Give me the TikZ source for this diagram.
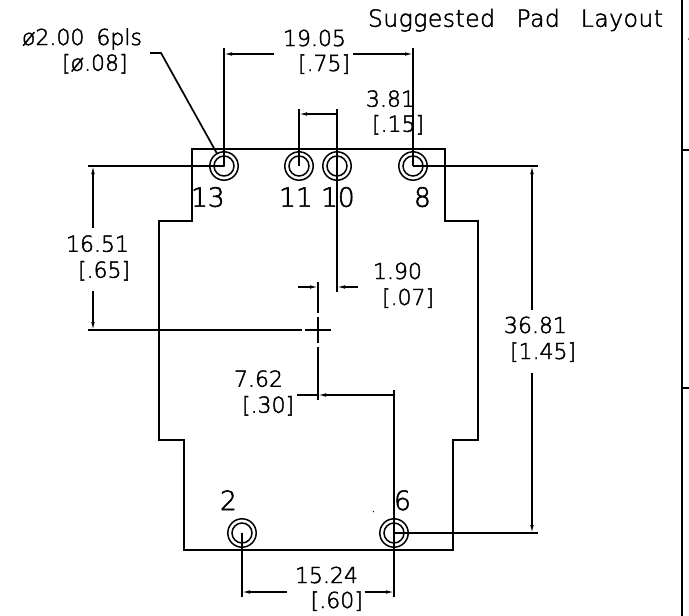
\documentclass[tikz,border=0pt]{standalone}
\usepackage{fontspec}
\newfontfamily\cad[FakeBold=2]{DejaVu Sans ExtraLight}
\usetikzlibrary{arrows.meta}
\tikzset{
  thin line/.style={line width=1.7pt,black},
  edge line/.style={line width=2pt,black,line join=miter},
  dim/.style={line width=1.2pt,black,-{Latex[length=8pt,width=3.6pt]}},
  txt/.style={anchor=base west,inner sep=0pt,outer sep=0pt,font=\cad\fontsize{22}{24}\selectfont},
  bigtxt/.style={txt,font=\cad\fontsize{26.5}{28}\selectfont},
  titletxt/.style={txt,font=\cad\fontsize{23.5}{26}\selectfont\addfontfeature{LetterSpace=2}},
  padring/.style={line width=1.5pt,draw=black,circle,minimum size=#1,inner sep=0pt}
}
\newcommand{\pad}[2]{%
  \coordinate (c#1) at (#2);
  \node[padring=28.4pt] (o#1) at (c#1) {};
  \node[padring=20pt] (i#1) at (c#1) {};
}
\begin{document}
\begin{tikzpicture}[x=1pt,y=-1pt]
\useasboundingbox (0,0) rectangle (689,616);
\fill[white] (0,0) rectangle (689,616);
% outline
\draw[edge line] (192,149) -- (192,221) -- (159,221) -- (159,440) -- (184,440) -- (184,550)
  -- (453,550) -- (453,440) -- (478,440) -- (478,221) -- (445,221) -- (445,149) -- cycle;
% pads
\pad{13}{224,166}
\pad{11}{299,166}
\pad{10}{337,166}
\pad{8}{413,166}
\pad{2}{242,533}
\pad{6}{394,533}
\fill (c13) circle (1pt);
% border at right
\draw[edge line] (682,0) -- (682,616);
\draw[edge line] (682,150) -- (689,150);
\draw[edge line] (682,388) -- (689,388);
\fill (688.5,39) circle (.6pt);
\fill (373.3,511.7) circle (.7pt);
% extension lines
\coordinate (t13) at (224,48);
\coordinate (t8) at (413,48);
\coordinate (t11) at (299,109);
\coordinate (t10) at (337,109);
\draw[thin line] (t13) -- (c13);
\draw[thin line] (t8) -- (c8);
\draw[thin line] (t11) -- (c11);
\draw[thin line] (t10) -- (c10) -- (337,292);
\draw[thin line] (88,166) -- (c13);
\draw[thin line] (c8) -- (538,166);
\draw[thin line] (c6) -- (538,533);
\draw[thin line] (394,390) -- (c6) -- (394,597);
\draw[thin line] (c2) -- (242,597);
% centre mark and centre lines
\coordinate (cm) at (318,330);
\draw[thin line] (88,330) -- (302,330);
\draw[edge line] (305,330) -- (331,330);
\draw[edge line] (318,317) -- (318,343);
\draw[thin line] (318,282) -- (318,313);
\draw[thin line] (318,347) -- (318,400);
% leader
\draw[thin line] (150,53) -- (161,53) -- (216.7,153);
% dimensions
\draw[dim] (274,54) -- (224,54);
\draw[dim] (353,54) -- (413,54);
\draw[dim,{Latex[length=8pt,width=3.6pt]}-] (299,114) -- (337,114);
\draw[dim] (298,287) -- (318,287);
\draw[dim] (358,287) -- (337,287);
\draw[dim] (93,228) -- (93,166);
\draw[dim] (93,291) -- (93,330);
\draw[dim] (532,310) -- (532,166);
\draw[dim] (532,373) -- (532,533);
\draw[thin line] (297,395) -- (318,395);
\draw[dim,{Latex[length=8pt,width=3.6pt]}-] (318,395) -- (394,395);
\draw[dim] (287,592) -- (242,592);
\draw[dim] (365,592) -- (394,592);
% texts
\node[titletxt] (title) at (368,26.7) {Suggested\hspace{13.5pt} Pad\hspace{13pt} Layout};
\node[txt] (dia) at (22,45) {ø2.00\hspace{5pt} 6pls};
\node[txt] (diab) at (62,70.7) {[ø.08]};
\node[txt] (a) at (283,46) {19.05};
\node[txt] (ab) at (298,71) {[.75]};
\node[txt] (b) at (366,106.7) {3.81};
\node[txt] (bb) at (372,131.7) {[.15]};
\node[bigtxt] (n13) at (191,206.7) {13};
\node[bigtxt] (n11) at (279,206.7) {11};
\node[bigtxt] (n10) at (321,206.7) {10};
\node[bigtxt] (n8) at (414,206.7) {8};
\node[txt] (c) at (66,251.7) {16.51};
\node[txt] (cb) at (78,277.7) {[.65]};
\node[txt] (d) at (373,279) {1.90};
\node[txt] (db) at (382,305) {[.07]};
\node[txt] (e) at (504,333) {36.81};
\node[txt] (eb) at (510,359) {[1.45]};
\node[txt] (f) at (234,386.7) {7.62};
\node[txt] (fb) at (242,412.7) {[.30]};
\node[bigtxt] (n2) at (220,510) {2};
\node[bigtxt] (n6) at (394,510) {6};
\node[txt] (g) at (295,583) {15.24};
\node[txt] (gb) at (310.7,608) {[.60]};
\end{tikzpicture}
\end{document}
